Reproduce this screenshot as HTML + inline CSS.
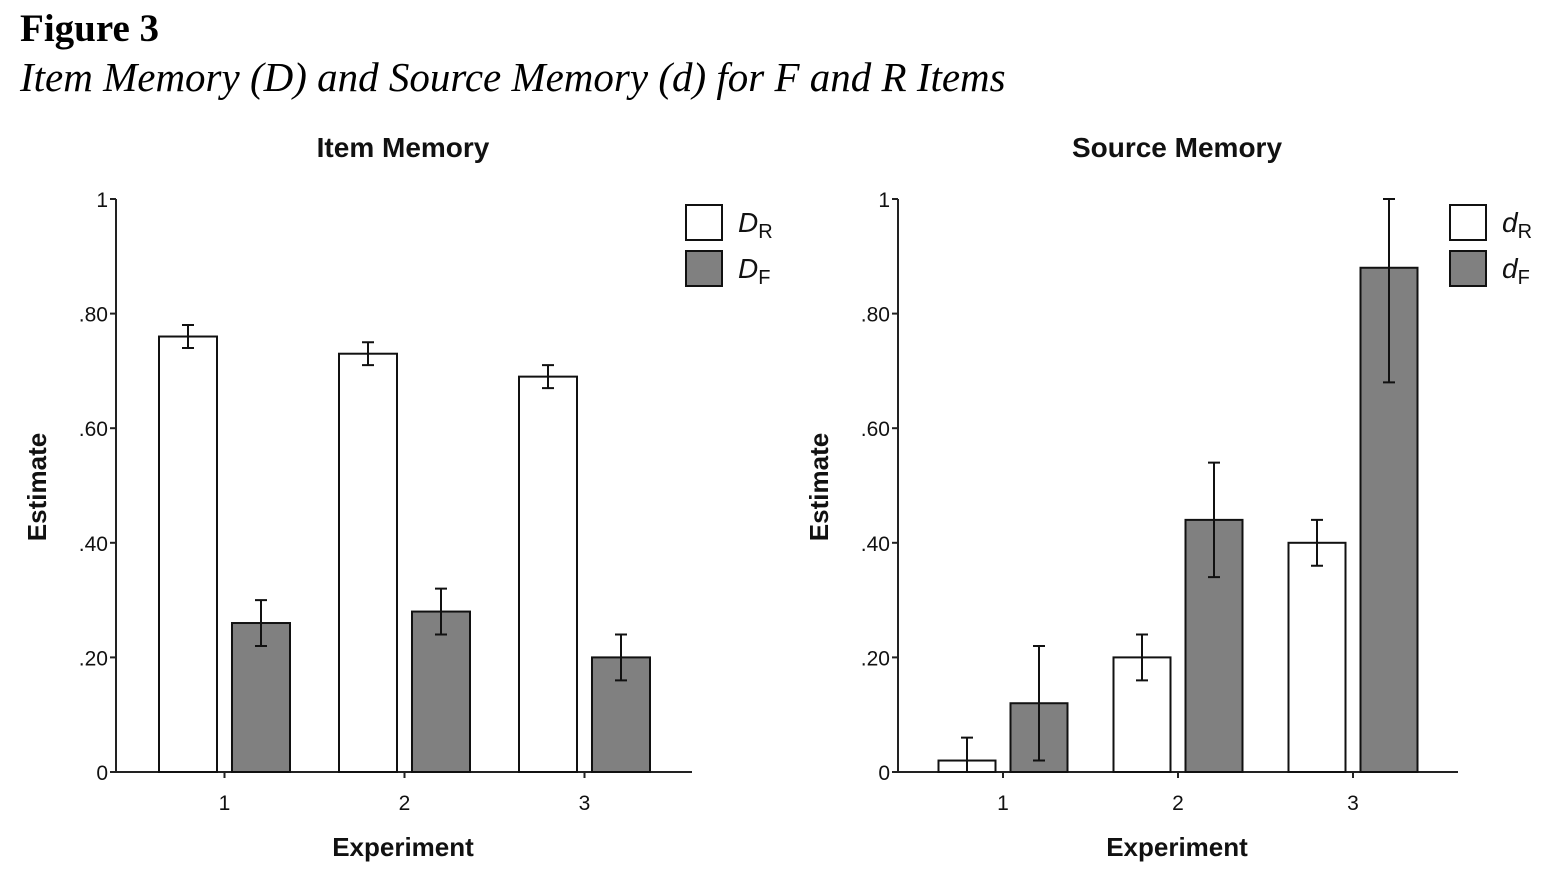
<!DOCTYPE html>
<html><head><meta charset="utf-8"><style>
body{margin:0;background:#fff;width:1562px;height:878px;overflow:hidden}
.fig{position:absolute;left:20px;top:6px;font-family:"Liberation Serif",serif;font-size:39px;font-weight:bold;color:#000}
.cap{position:absolute;left:20px;top:53px;font-family:"Liberation Serif",serif;font-size:41px;font-style:italic;color:#000}
svg{position:absolute;left:0;top:0}
text{font-family:"Liberation Sans",sans-serif;fill:#111}
</style></head><body>
<div class="fig">Figure 3</div>
<div class="cap">Item Memory (D) and Source Memory (d) for F and R Items</div>
<svg id="s" width="1562" height="878"></svg>
<script>
const categories=["1","2","3"];
const itemR=[0.76,0.73,0.69];
const itemRErr=[0.02,0.02,0.02];
const itemF=[0.26,0.28,0.20];
const itemFErr=[0.04,0.04,0.04];
const srcR=[0.02,0.20,0.40];
const srcRErr=[0.04,0.04,0.04];
const srcF=[0.12,0.44,0.88];
const srcFErr=[0.10,0.10,0.20];
const tickVals=[0,0.2,0.4,0.6,0.8,1];
const tickLabels=["0",".20",".40",".60",".80","1"];

const svg=document.getElementById('s');
const NS='http://www.w3.org/2000/svg';
function mk(tag,attrs,parent){const e=document.createElementNS(NS,tag);for(const k in attrs)e.setAttribute(k,attrs[k]);(parent||svg).appendChild(e);return e;}

function panel(cfg){
  const g=mk('g',{});
  
  
  const y=v=>772-v*573;
  const cx=i=>cfg.c0+i*cfg.step;
  const ya=mk('line',{x1:cfg.ax,y1:199,x2:cfg.ax,y2:772,stroke:'#222','stroke-width':2},g);
  
  const xa=mk('line',{x1:cfg.ax,y1:772,x2:cfg.xend,y2:772,stroke:'#222','stroke-width':2},g);
  
  tickVals.forEach((v,i)=>{
    const t=mk('line',{x1:cfg.ax-6,y1:y(v),x2:cfg.ax,y2:y(v),stroke:'#222','stroke-width':2},g);
    
    const l=mk('text',{x:cfg.ax-8,y:y(v)+8,'text-anchor':'end','font-size':21},g);
    l.textContent=tickLabels[i];
    
  });
  categories.forEach((c,i)=>{
    const t=mk('line',{x1:cx(i),y1:772,x2:cx(i),y2:778,stroke:'#222','stroke-width':2},g);
    
    const l=mk('text',{x:cx(i),y:810,'text-anchor':'middle','font-size':21},g);
    l.textContent=c;
    
    [[cfg.r,cfg.re,'#fff',-1],[cfg.f,cfg.fe,'#808080',1]].forEach(([vals,errs,fill,side],k)=>{
      const bx=side<0?cx(i)-7.5-cfg.bw:cx(i)+7.5;
      const v=vals[i];
      const b=mk('rect',{x:bx,y:y(v),width:cfg.bw,height:y(0)-y(v),fill:fill,stroke:'#111','stroke-width':2},g);
      
      
      const m=bx+cfg.bw/2;
      const lo=Math.max(0,v-errs[i]),hi=Math.min(1,v+errs[i]);
      const e=mk('path',{d:`M${m},${y(lo)}V${y(hi)}M${m-6},${y(lo)}H${m+6}M${m-6},${y(hi)}H${m+6}`,stroke:'#111','stroke-width':2,fill:'none'},g);
      
    });
  });
  const ti=mk('text',{x:cfg.tx,y:157,'text-anchor':'middle','font-size':28,'font-weight':'bold'},g);
  ti.textContent=cfg.title;
  const xl=mk('text',{x:cfg.tx,y:856,'text-anchor':'middle','font-size':26,'font-weight':'bold'},g);
  xl.textContent='Experiment';
  const yl=mk('text',{x:0,y:0,'text-anchor':'middle','font-size':26,'font-weight':'bold',transform:`translate(${cfg.ax-70},487) rotate(-90)`},g);
  yl.textContent='Estimate';
  [['#fff','R',205],['#808080','F',251]].forEach(([fill,sub,ly])=>{
    const r=mk('rect',{x:cfg.lx,y:ly,width:36,height:35,fill:fill,stroke:'#111','stroke-width':2},g);
    
    const t=mk('text',{x:cfg.lx+52,y:ly+27,'font-size':28,'font-style':'italic'},g);
    t.textContent=cfg.sym;
    const s=mk('tspan',{'font-size':20,'font-style':'normal',dy:6},t);
    s.textContent=sub;
    
  });
}
panel({name:'item-memory-chart',ax:116,xend:692,c0:224.5,step:180,bw:58,r:itemR,re:itemRErr,f:itemF,fe:itemFErr,title:'Item Memory',tx:403,lx:686,sym:'D'});
panel({name:'source-memory-chart',ax:898,xend:1458,c0:1003,step:175,bw:57,r:srcR,re:srcRErr,f:srcF,fe:srcFErr,title:'Source Memory',tx:1177,lx:1450,sym:'d'});
</script>
</body></html>
